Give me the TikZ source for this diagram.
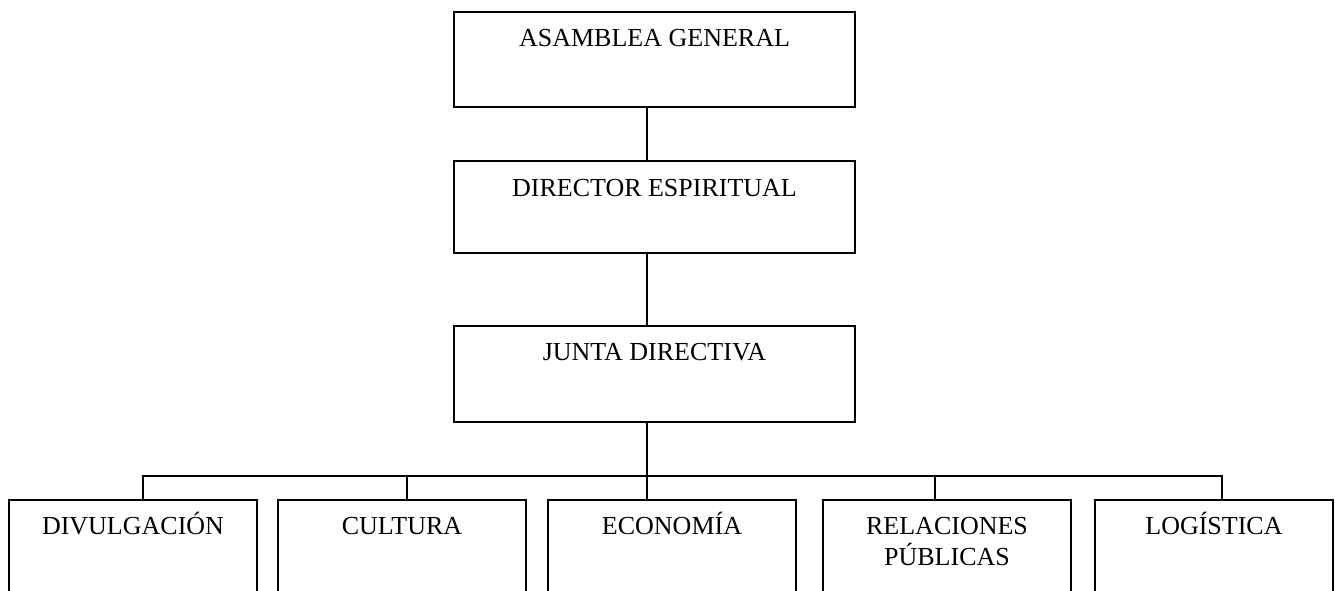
\documentclass[tikz,border=0pt]{standalone}
\usepackage{fontspec}
\setmainfont{Liberation Serif}
\usetikzlibrary{positioning}

\begin{document}
\begin{tikzpicture}
  [
    x=1pt, y=-1pt,
    unit/.style={draw, rectangle, line width=1.3pt, inner sep=0pt},
    head/.style={unit, minimum width=401pt},
    dept/.style={unit, minimum width=248pt, minimum height=130pt},
    lbl/.style={anchor=base, inner sep=0pt, font=\fontsize{26}{31}\selectfont},
    link/.style={line width=1.3pt}
  ]
  \useasboundingbox (0,0) rectangle (1335,591);
  \clip (0,0) rectangle (1335,591);

  % upper chain
  \node (asamblea) [head, minimum height=95pt] at (654.5,59.5) {};
  \node (director) [head, minimum height=92pt] at (654.5,207) {};
  \node (junta) [head, minimum height=96pt] at (654.5,374) {};
  \node (asamblea-t) [lbl] at ([yshift=-35pt]asamblea.north) {ASAMBLEA GENERAL};
  \node (director-t) [lbl] at ([yshift=-36pt]director.north) {DIRECTOR ESPIRITUAL};
  \node (junta-t) [lbl] at ([yshift=-35pt]junta.north) {JUNTA DIRECTIVA};

  % departments
  \node (divulgacion) [dept] at (133,565) {};
  \node (cultura) [dept] at (402,565) {};
  \node (economia) [dept] at (672,565) {};
  \node (relaciones) [dept] at (947,565) {};
  \node (logistica) [dept, minimum width=238pt] at (1214,565) {};
  \node (divulgacion-t) [lbl] at ([yshift=-35pt]divulgacion.north) {DIVULGACIÓN};
  \node (cultura-t) [lbl] at ([yshift=-35pt]cultura.north) {CULTURA};
  \node (economia-t) [lbl] at ([yshift=-35pt]economia.north) {ECONOMÍA};
  \node (relaciones-t) [lbl] at ([yshift=-35pt]relaciones.north)
    {\begin{tabular}[t]{@{}c@{}}RELACIONES\\PÚBLICAS\end{tabular}};
  \node (logistica-t) [lbl] at ([yshift=-35pt]logistica.north) {LOGÍSTICA};

  \coordinate (bus) at (647,476);

  \draw [link] ([xshift=-7.5pt]asamblea.south) -- ([xshift=-7.5pt]director.north);
  \draw [link] ([xshift=-7.5pt]director.south) -- ([xshift=-7.5pt]junta.north);
  \draw [link] ([xshift=-7.5pt]junta.south) -- ([xshift=-25pt]economia.north);
  \draw [link] ([xshift=10pt]divulgacion.north) -- ([xshift=10pt]divulgacion.north |- bus)
    -- ([xshift=8pt]logistica.north |- bus) -- ([xshift=8pt]logistica.north);
  \draw [link] ([xshift=5pt]cultura.north) -- ([xshift=5pt]cultura.north |- bus);
  \draw [link] ([xshift=-12pt]relaciones.north) -- ([xshift=-12pt]relaciones.north |- bus);
\end{tikzpicture}
\end{document}
